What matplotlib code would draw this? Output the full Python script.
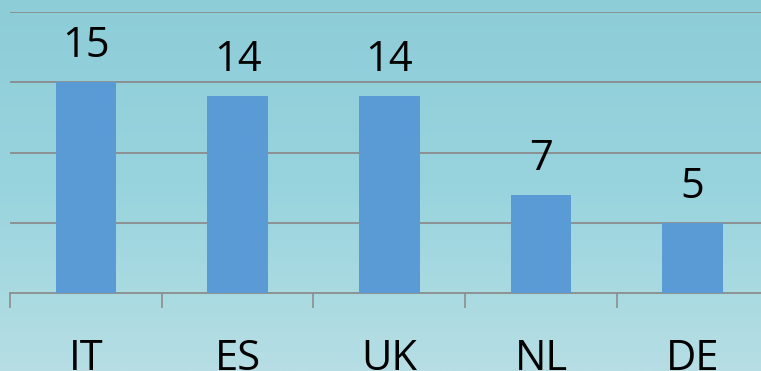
import numpy as np
import matplotlib.pyplot as plt
from matplotlib.colors import LinearSegmentedColormap

countries = ['IT', 'ES', 'UK', 'NL', 'DE']
counts = [15, 14, 14, 7, 5]

plt.rcParams['font.family'] = ['Open Sans', 'DejaVu Sans']

fig = plt.figure(figsize=(7.61, 3.71), dpi=100)

# vertical teal gradient behind everything
bg = fig.add_axes([0, 0, 1, 1], zorder=0)
grad = LinearSegmentedColormap.from_list('bg', ['#b6dee4', '#98d4de', '#8dcdd8'])
bg.imshow(np.linspace(0, 1, 256).reshape(-1, 1), aspect='auto', cmap=grad,
          origin='lower', extent=[0, 1, 0, 1])
bg.axis('off')

ax = fig.add_axes([10 / 761, 78 / 371, 758.5 / 761, 281 / 371], zorder=1)
ax.patch.set_alpha(0)

x = np.arange(len(countries))
bars = ax.bar(x, counts, width=0.4, color='#5b9bd5', zorder=3)
for b, v in zip(bars, counts):
    ax.annotate(str(v), (b.get_x() + b.get_width() / 2, v), xytext=(0, 18),
                textcoords='offset points', ha='center', va='baseline', fontsize=30)

ax.set_xlim(-0.5, len(countries) - 0.5)
ax.set_ylim(0, 20)
ax.set_yticks([5, 10, 15, 20])
ax.yaxis.grid(True, color='#8c8c8c', lw=1.3)
ax.tick_params(axis='y', left=False, labelleft=False)

# tick marks sit on the category boundaries
ax.set_xticks(np.arange(len(countries) + 1) - 0.5)
ax.set_xticklabels([])
ax.tick_params(axis='x', which='major', length=11, color='#8c8c8c', width=1.2)

# category names below the axis, baseline near the bottom edge
for xi, name in zip(x, countries):
    ax.text(xi, -5.45, name, ha='center', va='baseline', fontsize=30, clip_on=False)

for s in ['top', 'right', 'left']:
    ax.spines[s].set_visible(False)
ax.spines['bottom'].set_color('#8c8c8c')
ax.spines['bottom'].set_linewidth(1.3)

fig.savefig('out.png', dpi=100)
